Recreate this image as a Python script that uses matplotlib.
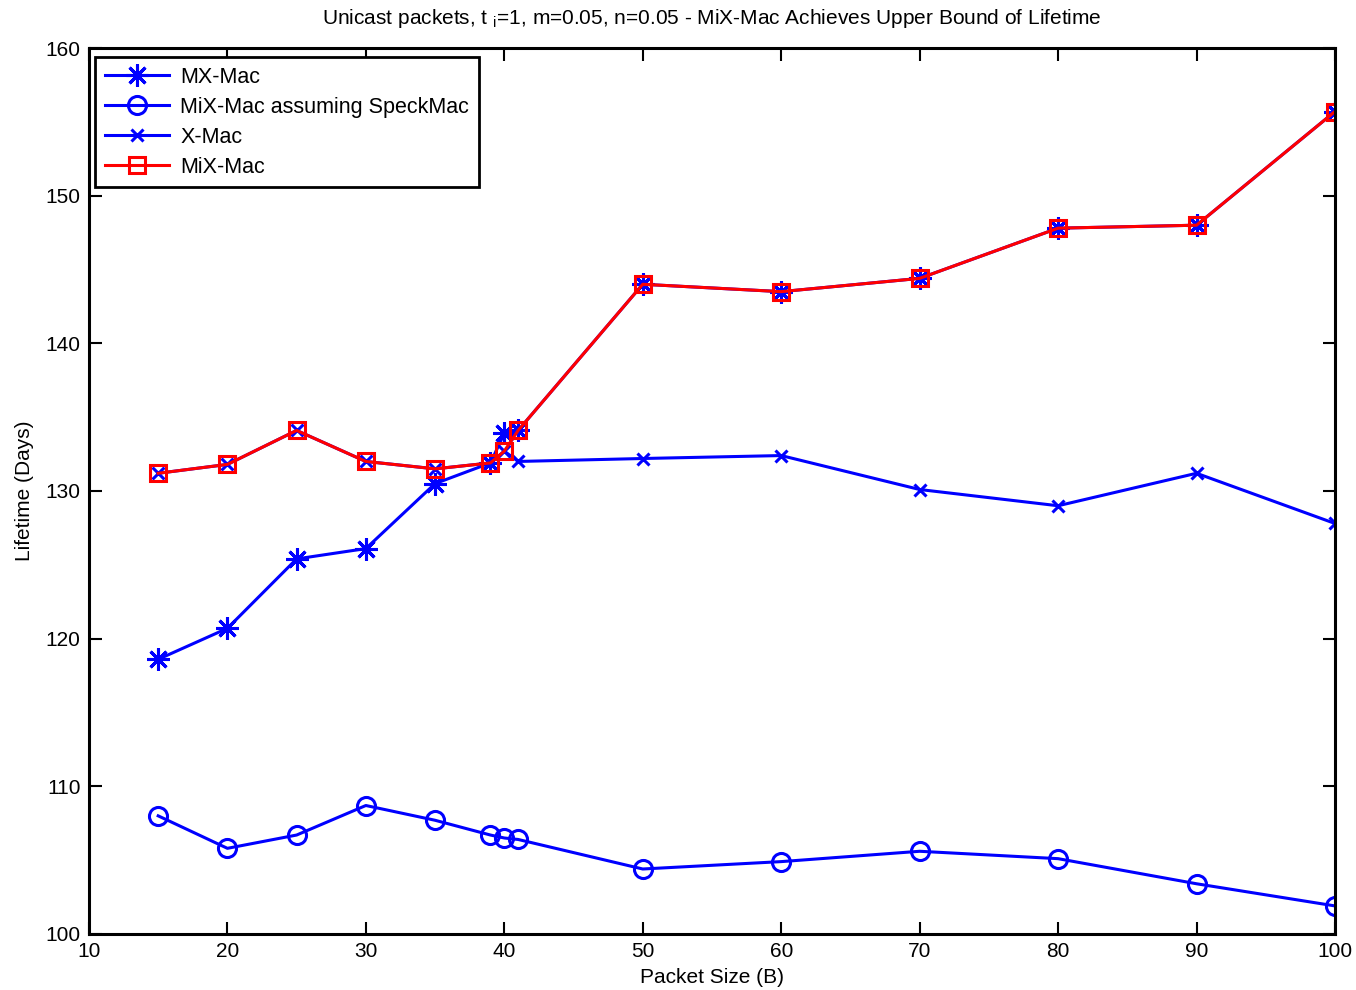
import matplotlib
matplotlib.use('Agg')
import matplotlib.pyplot as plt

# Font setup - Helvetica-like look
plt.rcParams['font.family'] = ['Liberation Sans', 'DejaVu Sans']
plt.rcParams['mathtext.fontset'] = 'custom'
plt.rcParams['mathtext.rm'] = 'Liberation Sans'

# packet sizes (B)
packet_size = [15, 20, 25, 30, 35, 39, 40, 41, 50, 60, 70, 80, 90, 100]

# lifetimes (days)
mx_mac = [118.6, 120.7, 125.4, 126.1, 130.5, 131.9, 133.9, 134.1,
          144.0, 143.5, 144.4, 147.8, 148.0, 155.7]
mix_speck = [108.0, 105.8, 106.7, 108.7, 107.7, 106.7, 106.5, 106.4,
             104.4, 104.9, 105.6, 105.1, 103.4, 101.9]
x_mac = [131.2, 131.8, 134.1, 132.0, 131.5, 131.9, 132.7, 132.0,
         132.2, 132.4, 130.1, 129.0, 131.2, 127.8]
mix_mac = [131.2, 131.8, 134.1, 132.0, 131.5, 131.9, 132.7, 134.1,
           144.0, 143.5, 144.4, 147.8, 148.0, 155.7]

x_ticks = [10, 20, 30, 40, 50, 60, 70, 80, 90, 100]
y_ticks = [100, 110, 120, 130, 140, 150, 160]

fs = 15

fig = plt.figure(figsize=(13.56, 9.9), dpi=100)
ax = fig.add_axes([0.0656, 0.0566, 0.9189, 0.8949])

# matlab style asterisk: 8 spokes
ast = (8, 2, 0)
ax.plot(packet_size, mx_mac, color='blue', marker=ast, markersize=16,
        markeredgewidth=2.2, linewidth=2.2, label='MX-Mac')
ax.plot(packet_size, mix_speck, color='blue', marker='o', markersize=13,
        markerfacecolor='none', markeredgewidth=2.2, linewidth=2.2,
        label='MiX-Mac assuming SpeckMac')
ax.plot(packet_size, x_mac, color='blue', marker='x', markersize=9,
        markeredgewidth=2.2, linewidth=2.2, label='X-Mac')
ax.plot(packet_size, mix_mac, color='red', marker='s', markersize=11,
        markerfacecolor='none', markeredgewidth=2.2, linewidth=2.2,
        label='MiX-Mac')

ax.set_xlim(10, 100)
ax.set_ylim(100, 160)
ax.set_xticks(x_ticks)
ax.set_yticks(y_ticks)
ax.tick_params(direction='in', length=9, width=1.5, labelsize=fs,
               top=True, right=True, pad=6)
for sp in ax.spines.values():
    sp.set_linewidth(2.2)

ax.set_xlabel('Packet Size (B)', fontsize=fs, labelpad=5)
ax.set_ylabel('Lifetime (Days)', fontsize=fs, labelpad=8)
ax.set_title(r'Unicast packets, t $_{\mathrm{i}}$=1, m=0.05, n=0.05 - MiX-Mac Achieves Upper Bound of Lifetime',
             fontsize=fs, pad=17)

leg = ax.legend(loc='upper left', bbox_to_anchor=(0.005, 0.99), borderaxespad=0,
                fontsize=15.5, handlelength=3.0, frameon=True, fancybox=False,
                edgecolor='black', framealpha=1, labelspacing=0.42,
                borderpad=0.45, handletextpad=0.5)
leg.get_frame().set_linewidth(2)

fig.savefig('out.png', dpi=100)
